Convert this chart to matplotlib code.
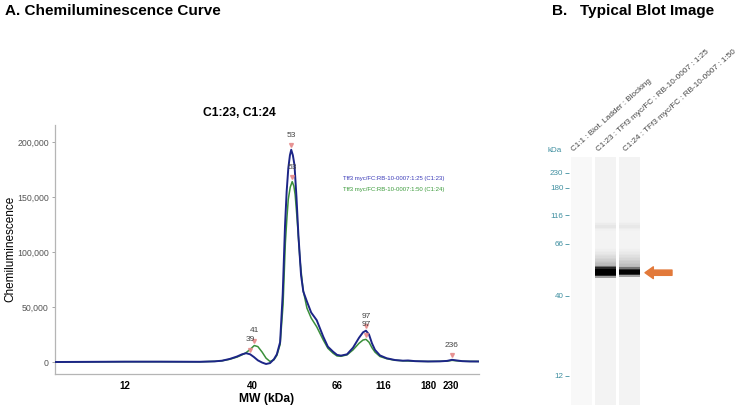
import numpy as np
import matplotlib
matplotlib.use('Agg')
import matplotlib.pyplot as plt
from matplotlib.patches import Rectangle
from matplotlib.ticker import FuncFormatter, NullLocator
import matplotlib.transforms as mtransforms

plt.rcParams['font.family'] = ['Liberation Sans', 'DejaVu Sans']

W, H = 755, 411

# ---------------- data ----------------
ladder_mw = [12, 40, 66, 116, 180, 230]

# C1:23 (1:25) trace, MW (kDa) vs chemiluminescence (thousands)
mw_blue = [2.0, 8.4, 12.0, 19.7, 28.5, 31.8, 33.4, 35.1, 36.7, 37.8, 38.7, 39.6, 40.6,
           41.8, 43.1, 44.3, 45.5, 46.7, 47.6, 48.6, 49.4, 50.1, 50.6, 51.1, 51.6, 52.0,
           52.5, 53.0, 53.6, 54.2, 55.0, 55.7, 56.8, 58.1, 59.8, 61.8, 63.2, 64.8, 66.0,
           70.3, 76.9, 83.4, 89.9, 94.3, 97.5, 100.8, 104.0, 107.3, 112.7, 121.3, 133.1,
           144.4, 151.6, 161.5, 180.0, 206.0, 221.3, 232.5, 242.5, 257.5, 277.5, 300.0]
sig_blue = [0.0, 0.2, 0.3, 0.3, 0.2, 0.6, 1.2, 2.8, 5.0, 7.0, 8.0, 7.0, 4.5,
            1.5, -0.5, -1.8, -1.0, 2.5, 7.0, 18.0, 62.0, 124.0, 155.0, 176.0, 188.0, 193.0,
            188.0, 179.0, 150.0, 115.0, 79.0, 64.0, 55.0, 45.0, 38.0, 23.0, 14.0, 9.4, 6.5,
            5.8, 7.0, 13.0, 22.0, 27.0, 28.5, 25.0, 17.0, 11.0, 6.0, 3.4, 1.8,
            1.2, 1.4, 0.8, 0.5, 0.6, 1.0, 2.0, 1.5, 0.8, 0.5, 0.5]

# C1:24 (1:50) trace
mw_green = [2.0, 8.4, 12.0, 19.7, 28.5, 31.8, 33.4, 35.1, 36.7, 37.8, 38.7, 39.6, 40.7,
            41.8, 43.1, 44.3, 45.5, 46.7, 47.6, 48.6, 49.5, 50.2, 50.7, 51.1, 51.7, 52.3,
            52.8, 53.2, 53.8, 54.7, 55.6, 56.8, 58.1, 59.8, 61.8, 63.2, 64.8, 66.0,
            70.3, 76.9, 83.4, 89.9, 94.3, 97.5, 100.8, 104.0, 107.3, 112.7, 121.3, 133.1,
            144.4, 161.5, 180.0, 221.3, 232.5, 257.5, 300.0]
sig_green = [0.0, 0.2, 0.3, 0.3, 0.2, 0.6, 1.1, 2.5, 4.5, 6.5, 8.5, 11.5, 15.0,
             14.0, 9.0, 3.5, 0.5, 2.0, 6.0, 16.0, 52.0, 108.0, 132.0, 148.0, 159.0, 164.0,
             160.0, 152.0, 130.0, 92.0, 66.0, 49.0, 40.0, 32.0, 20.0, 12.5, 8.0, 5.5,
             5.2, 6.5, 11.0, 17.0, 20.0, 20.6, 18.0, 13.0, 9.0, 5.0, 3.0, 1.6,
             1.1, 0.7, 0.5, 0.8, 1.5, 0.7, 0.5]

peaks_blue_mw = [39.6, 52.0, 97.5, 232.5]
peaks_blue_sig = [7.0, 193.0, 28.5, 2.0]
peaks_blue_lab = ['39', '53', '97', '236']
peaks_green_mw = [40.7, 52.3, 97.5]
peaks_green_sig = [15.0, 164.0, 20.6]
peaks_green_lab = ['41', '53', '97']

series_names = ['Tff3 myc/FC:RB-10-0007:1:25 (C1:23)',
                'Tff3 myc/FC:RB-10-0007:1:50 (C1:24)']

lane_labels = ['C1:1 : Biot. Ladder : Blocking',
               'C1:23 : TFf3 myc/FC : RB-10-0007 : 1:25',
               'C1:24 : TFf3 myc/FC : RB-10-0007 : 1:50']
blot_ladder_mw = [12, 40, 66, 116, 180, 230]
band_lane = [1, 2, 1, 2]
band_mw = [52, 52, 97, 97]
band_strength = [1.0, 0.95, 0.025, 0.02]

# ---------------- layout helpers ----------------
def fx(px):
    return px / W

def fy(py):
    return 1 - py / H

fig = plt.figure(figsize=(W / 100, H / 100), dpi=100)
fig.patch.set_facecolor('white')

# ---------------- panel A ----------------
axA = fig.add_axes([fx(55), fy(374), (479 - 55) / W, (374 - 125) / H])
anch_mw = [2] + ladder_mw + [300]
anch_px = [55, 125, 252, 337, 383, 428, 451, 479]

def fwd(x):
    return np.interp(x, anch_mw, anch_px)

def inv(p):
    return np.interp(p, anch_px, anch_mw)

axA.set_xscale('function', functions=(fwd, inv))
axA.set_xlim(2, 300)
axA.set_ylim(-10.9, 215.5)

blue = '#1c2587'
green = '#3a8f3a'
axA.plot(mw_green, sig_green, color=green, lw=1.1, zorder=2, solid_joinstyle='round')
axA.plot(mw_blue, sig_blue, color=blue, lw=1.4, zorder=3, solid_joinstyle='round')

mk_tr = mtransforms.offset_copy(axA.transData, fig=fig, x=0, y=3.2, units='points')
for pmw, psig, plab in [(peaks_blue_mw, peaks_blue_sig, peaks_blue_lab),
                        (peaks_green_mw, peaks_green_sig, peaks_green_lab)]:
    axA.plot(pmw, psig, linestyle='none', marker='v', markersize=2.8,
             color='#e58a8a', alpha=0.85, transform=mk_tr, zorder=4)
    for xm, ym, t in zip(pmw, psig, plab):
        axA.annotate(t, (xm, ym), xytext=(0, 10.5), textcoords='offset points',
                     ha='center', va='center', fontsize=6, color='#444444', zorder=5)

axA.set_xticks(ladder_mw)
axA.set_xticklabels([str(v) for v in ladder_mw], fontweight='bold', fontsize=7)
axA.xaxis.set_minor_locator(NullLocator())
axA.tick_params(axis='x', length=0, pad=5)
axA.set_yticks([0, 50, 100, 150, 200])
axA.yaxis.set_major_formatter(FuncFormatter(lambda v, p: '{:,.0f}'.format(v * 1000)))
axA.tick_params(axis='y', length=2.5, width=0.6, color='#999999', labelsize=6.3,
                labelcolor='#555555', pad=2)
for s in ['top', 'right']:
    axA.spines[s].set_visible(False)
for s in ['left', 'bottom']:
    axA.spines[s].set_color('#b5b5b5')
    axA.spines[s].set_linewidth(0.9)

fig.text(fx(343), fy(178.3), series_names[0], fontsize=4.3, color='#3a3ab8',
         ha='left', va='center')
fig.text(fx(343), fy(189), series_names[1], fontsize=4.3, color='#3a9a3a',
         ha='left', va='center')

fig.text(fx(239), fy(113), 'C1:23, C1:24', fontsize=8.7, fontweight='bold',
         ha='center', va='center')
fig.text(fx(267), fy(399), 'MW (kDa)', fontsize=8.7, fontweight='bold',
         ha='center', va='center')
fig.text(fx(10), fy(249), 'Chemiluminescence', fontsize=8.5, rotation=90,
         ha='center', va='center')
fig.text(fx(5), fy(11), 'A. Chemiluminescence Curve', fontsize=11,
         fontweight='bold', ha='left', va='center')

# ---------------- panel B ----------------
fig.text(fx(552), fy(11), 'B.', fontsize=11, fontweight='bold', ha='left', va='center')
fig.text(fx(580), fy(11), 'Typical Blot Image', fontsize=11, fontweight='bold',
         ha='left', va='center')

lane_px0, lane_step = 581.2, 24.3
axB = fig.add_axes([fx(569), fy(405), (700 - 569) / W, (405 - 157) / H])
axB.set_xlim((569 - lane_px0) / lane_step, (700 - lane_px0) / lane_step)
axB.set_ylim(405, 157)
for s in axB.spines.values():
    s.set_visible(False)
axB.set_xticks([])

ladder_rows = [376, 296, 244, 215, 188, 173]   # row positions of ladder marks

def blot_row(mw):
    return np.interp(mw, blot_ladder_mw, ladder_rows)

teal = '#3f8fa0'
axB.set_yticks(ladder_rows)
axB.set_yticklabels([str(v) for v in blot_ladder_mw])
axB.tick_params(axis='y', length=3, width=0.6, color=teal, labelcolor=teal,
                labelsize=5.8, pad=1)

lane_w = 0.88
lane_cols = ['#f8f8f8', '#f3f3f3', '#f3f3f3']
for i in range(3):
    axB.add_patch(Rectangle((i - lane_w / 2, 157), lane_w, 248,
                            facecolor=lane_cols[i], edgecolor='none', zorder=1))

band_h = {1: 9.0, 2: 6.5}
for ln, mw, st in zip(band_lane, band_mw, band_strength):
    r = blot_row(mw)
    h = band_h[ln] if st > 0.5 else 6.0
    x0 = ln - lane_w / 2
    if st > 0.5:
        # smear above band
        top = blot_row(64)
        n = 14
        seg = (r - h / 2 - top) / n
        for k in range(n):
            y1 = r - h / 2 - (k + 1) * seg
            axB.add_patch(Rectangle((x0, y1), lane_w, seg, facecolor='black',
                                    alpha=0.28 * st * (1 - k / n) ** 1.5,
                                    edgecolor='none', zorder=2))
    axB.add_patch(Rectangle((x0, r - h / 2 - 1.5), lane_w, h + 3, facecolor='black',
                            alpha=0.35 * st, edgecolor='none', zorder=3))
    axB.add_patch(Rectangle((x0, r - h / 2), lane_w, h, facecolor='black',
                            alpha=0.75 * st, edgecolor='none', zorder=3))
    axB.add_patch(Rectangle((x0, r - h / 2 + 1.5), lane_w, max(h - 3, 1), facecolor='black',
                            alpha=1.0 * st, edgecolor='none', zorder=3))

arrow_row = blot_row(52) + 0.7
axB.annotate('', xy=((645 - lane_px0) / lane_step, arrow_row),
             xytext=((672 - lane_px0) / lane_step, arrow_row),
             arrowprops=dict(arrowstyle='simple,head_length=0.6,head_width=0.85,tail_width=0.38',
                             color='#e2793a', mutation_scale=10, shrinkA=0, shrinkB=0),
             annotation_clip=False)

label_off = [-0.25, -0.23, -0.1]
for i, lab in enumerate(lane_labels):
    axB.text(i + label_off[i], 153, lab, rotation=42, rotation_mode='anchor',
             ha='left', va='bottom', fontsize=5.9, color='#444444', clip_on=False)
axB.text((555 - lane_px0) / lane_step, 151, 'kDa', fontsize=5.8, color=teal,
         ha='center', va='center', clip_on=False)

fig.savefig('out.png', dpi=100)
